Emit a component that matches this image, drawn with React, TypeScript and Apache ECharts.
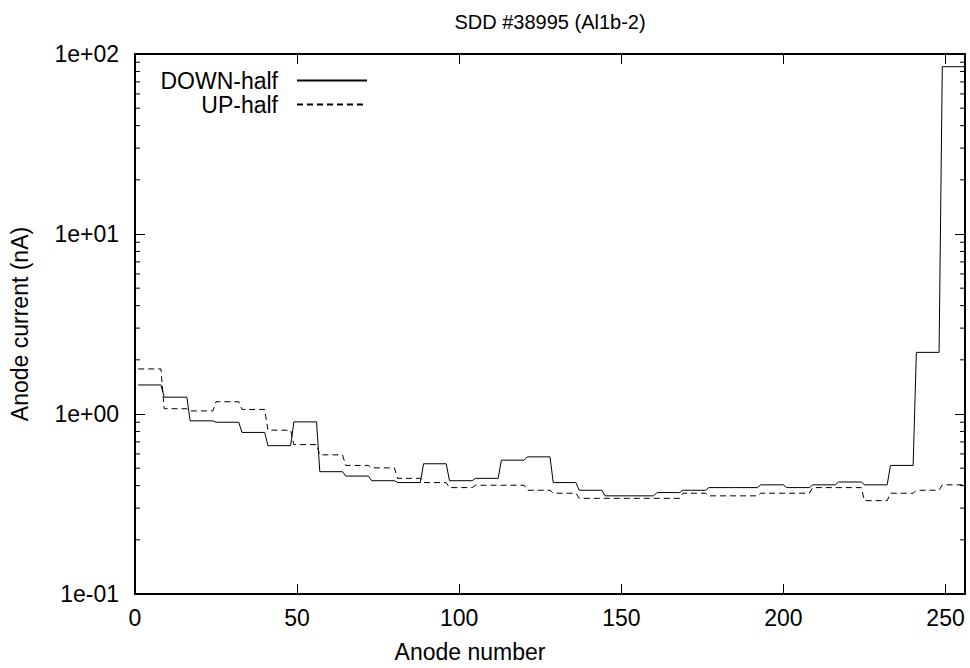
import React, { useEffect, useRef } from "react";
import * as echarts from "echarts";

// Anode current per group of 8 anodes (nA)
const GROUP_SIZE = 8;
const downHalf = [
  1.45, 1.24, 0.916, 0.9, 0.79, 0.667, 0.904, 0.478,
  0.452, 0.426, 0.416, 0.529, 0.426, 0.439, 0.554, 0.578,
  0.416, 0.377, 0.351, 0.351, 0.366, 0.377, 0.39, 0.39,
  0.404, 0.39, 0.404, 0.419, 0.404, 0.518, 2.2, 85,
];
const upHalf = [
  1.78, 1.07, 1.04, 1.17, 1.06, 0.813, 0.676, 0.593,
  0.518, 0.502, 0.439, 0.416, 0.39, 0.402, 0.402, 0.377,
  0.363, 0.34, 0.34, 0.34, 0.34, 0.363, 0.351, 0.351,
  0.363, 0.363, 0.39, 0.39, 0.33, 0.363, 0.377, 0.404,
];
const seriesNames = ["DOWN-half", "UP-half"];
const X_MIN = 0;
const X_MAX = 256;
const X_INTERVAL = 50;
const Y_MIN = 0.1;
const Y_MAX = 100;
const minorDecades = [0.1, 1, 10];
const minorSteps = [2, 3, 4, 5, 6, 7, 8, 9];

const FONT = "'Liberation Sans', Arial, Helvetica, sans-serif";

function groupsToPoints(groups: number[]) {
  const pts: number[][] = [];
  groups.forEach((v, g) => {
    pts.push([g * GROUP_SIZE + 1, v]);
    pts.push([g * GROUP_SIZE + GROUP_SIZE, v]);
  });
  return pts;
}

function logLabel(v: number) {
  const e = Math.round(Math.log10(v));
  const a = Math.abs(e);
  return "1e" + (e < 0 ? "-" : "+") + (a < 10 ? "0" + a : String(a));
}

export default function App() {
  const ref = useRef<HTMLDivElement>(null);
  useEffect(() => {
    if (!ref.current) return;
    const chart = echarts.init(ref.current, undefined, { renderer: "svg" });
    const minorTicks: number[][] = [];
    minorDecades.forEach((d) => minorSteps.forEach((m) => minorTicks.push([X_MIN, d * m])));

    const axisLine = { show: true, onZero: false, lineStyle: { color: "#000", width: 2 } };
    const xTick = { show: true, inside: true, length: 10, lineStyle: { color: "#000", width: 1 } };
    const yTick = { show: true, inside: true, length: 10, lineStyle: { color: "#000", width: 1 } };
    const labelStyle = { color: "#000", fontFamily: FONT, fontSize: 23 };

    const legendCommon = {
      orient: "vertical",
      align: "right",
      right: 970 - 368,
      padding: 0,
      itemWidth: 70,
      itemHeight: 14,
      selectedMode: false,
      itemStyle: { opacity: 0, color: "transparent", borderWidth: 0 },
      textStyle: { ...labelStyle, padding: [0, 14, 0, 0] },
    };

    chart.setOption({
      animation: false,
      backgroundColor: "#fff",
      title: {
        text: "SDD #38995 (Al1b-2)",
        left: 550,
        top: 12,
        padding: 0,
        textAlign: "center",
        textStyle: { color: "#000", fontFamily: FONT, fontSize: 20, fontWeight: "normal" },
      },
      legend: [
        { ...legendCommon, data: [seriesNames[0]], top: 69 },
        { ...legendCommon, data: [seriesNames[1]], top: 93 },
      ],
      grid: { left: 135, right: 5, top: 54, bottom: 69, containLabel: false },
      xAxis: [
        {
          type: "value",
          min: X_MIN,
          max: X_MAX,
          interval: X_INTERVAL,
          position: "bottom",
          name: "Anode number",
          nameLocation: "middle",
          nameGap: 46,
          nameTextStyle: { ...labelStyle, padding: [0, 160, 0, 0] },
          axisLine,
          axisTick: xTick,
          axisLabel: {
            ...labelStyle,
            margin: 12,
            formatter: (v: number) => (v % X_INTERVAL === 0 ? String(v) : ""),
          },
          splitLine: { show: false },
        },
        {
          type: "value",
          min: X_MIN,
          max: X_MAX,
          interval: X_INTERVAL,
          position: "top",
          axisLine,
          axisTick: xTick,
          axisLabel: { show: false },
          splitLine: { show: false },
        },
      ],
      yAxis: [
        {
          type: "log",
          logBase: 10,
          min: Y_MIN,
          max: Y_MAX,
          splitNumber: 3,
          position: "left",
          name: "Anode current (nA)",
          nameLocation: "middle",
          nameGap: 104,
          nameTextStyle: labelStyle,
          axisLine,
          axisTick: yTick,
          axisLabel: { ...labelStyle, margin: 16, formatter: logLabel },
          splitLine: { show: false },
        },
        {
          type: "log",
          logBase: 10,
          min: Y_MIN,
          max: Y_MAX,
          splitNumber: 3,
          position: "right",
          axisLine,
          axisTick: yTick,
          axisLabel: { show: false },
          splitLine: { show: false },
        },
      ],
      series: [
        {
          name: seriesNames[0],
          type: "line",
          xAxisIndex: 0,
          yAxisIndex: 0,
          data: groupsToPoints(downHalf),
          symbol: "none",
          showSymbol: false,
          lineStyle: { color: "#000", width: 1, type: "solid" },
          itemStyle: { color: "#000" },
        },
        {
          name: seriesNames[1],
          type: "line",
          xAxisIndex: 0,
          yAxisIndex: 0,
          data: groupsToPoints(upHalf),
          symbol: "none",
          showSymbol: false,
          lineStyle: { color: "#000", width: 1, type: [6, 4] },
          itemStyle: { color: "#000" },
        },
        {
          type: "custom",
          xAxisIndex: 0,
          yAxisIndex: 0,
          silent: true,
          data: minorTicks,
          renderItem: (params: any, api: any) => {
            const v = api.value(1);
            const l = api.coord([X_MIN, v]);
            const r = api.coord([X_MAX, v]);
            return {
              type: "group",
              children: [
                { type: "line", shape: { x1: l[0], y1: l[1], x2: l[0] + 5, y2: l[1] }, style: { stroke: "#000", lineWidth: 1 } },
                { type: "line", shape: { x1: r[0] - 5, y1: r[1], x2: r[0], y2: r[1] }, style: { stroke: "#000", lineWidth: 1 } },
              ],
            };
          },
        },
      ],
    });
    return () => chart.dispose();
  }, []);
  return (
    <div
      ref={ref}
      style={{ position: "fixed", left: 0, top: 0, width: 970, height: 668, background: "#fff" }}
    />
  );
}
